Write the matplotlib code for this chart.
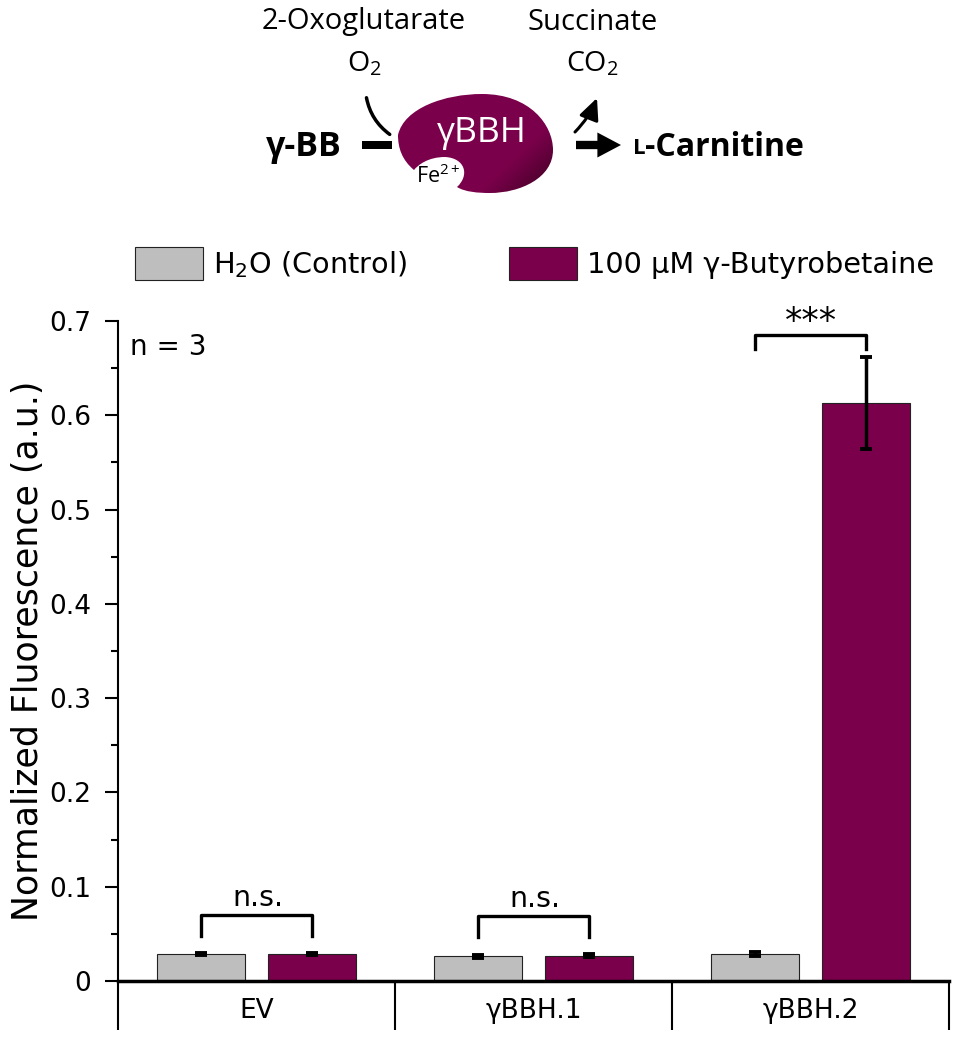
import numpy as np
import matplotlib
matplotlib.use('Agg')
import matplotlib.pyplot as plt
from matplotlib.patches import PathPatch, FancyArrowPatch, Rectangle
from matplotlib.path import Path
from matplotlib.colors import LinearSegmentedColormap

plt.rcParams['font.family'] = ['DejaVu Sans']
plt.rcParams['mathtext.default'] = 'regular'

GREY = '#BEBEBE'
PURPLE = '#7B004B'

# data
groups = ['EV', 'γBBH.1', 'γBBH.2']
control = [0.029, 0.026, 0.029]
control_err = [0.001, 0.002, 0.002]
treated = [0.029, 0.027, 0.613]
treated_err = [0.001, 0.002, 0.049]
series_labels = ['H$_2$O (Control)', '100 µM γ-Butyrobetaine']
brackets = [(0, 0.07, 0.048, 'n.s.'), (1, 0.069, 0.047, 'n.s.'), (2, 0.685, 0.67, '***')]

W, H = 956, 1037
fig = plt.figure(figsize=(W / 100, H / 100), dpi=100)
ax = fig.add_axes([118 / W, 1 - 981 / H, 831 / W, 660 / H])

x = np.arange(len(groups))
off = 0.2
bw = 0.318
ax.bar(x - off, control, bw, color=GREY, edgecolor='#222222', linewidth=0.8, label=series_labels[0])
ax.bar(x + off, treated, bw, color=PURPLE, edgecolor='#222222', linewidth=0.8, label=series_labels[1])
ax.errorbar(x - off, control, yerr=control_err, fmt='none', ecolor='black', elinewidth=2.5, capsize=4.5, capthick=2.8)
ax.errorbar(x + off, treated, yerr=treated_err, fmt='none', ecolor='black', elinewidth=2.5, capsize=4.5, capthick=2.8)

for g, top, low, label in brackets:
    ax.plot([g - off, g - off, g + off, g + off], [low, top, top, low], color='black', lw=2.4,
            solid_joinstyle='round', clip_on=False)
    if label == 'n.s.':
        ax.text(g + 0.006, top + 0.003, label, ha='center', va='bottom', fontsize=20.5, clip_on=False)
    else:
        ax.text(g, top - 0.004, label, ha='center', va='bottom', fontsize=25, clip_on=False)

ax.set_xlim(-0.5, 2.5)
ax.set_ylim(0, 0.7)
ax.set_yticks(np.arange(0, 0.71, 0.1))
ax.set_yticklabels(['0', '0.1', '0.2', '0.3', '0.4', '0.5', '0.6', '0.7'])
ax.set_yticks(np.arange(0.05, 0.7, 0.1), minor=True)
ax.tick_params(axis='y', which='major', length=9.5, width=1.5, labelsize=19, pad=10)
ax.tick_params(axis='y', which='minor', length=5, width=1.5)
ax.set_xticks([-0.5, 0.5, 1.5, 2.5])
ax.set_xticklabels([])
ax.tick_params(axis='x', which='major', length=35, width=1.5)
ax.set_xticks(x, minor=True)
ax.set_xticklabels(groups, minor=True)
ax.tick_params(axis='x', which='minor', length=0, labelsize=19, pad=12)
ax.set_ylabel('Normalized Fluorescence (a.u.)', fontsize=25, labelpad=3)
for side in ['top', 'right']:
    ax.spines[side].set_visible(False)
ax.spines['left'].set_linewidth(1.5)
ax.spines['bottom'].set_linewidth(2.5)
ax.text(130, 347, 'n = 3', fontsize=20, va='center', ha='left',
        transform=matplotlib.transforms.Affine2D().scale(1, -1).translate(0, H))

ax.legend(loc='lower left', bbox_to_anchor=(135 / W, 1 - 280 / H), bbox_transform=fig.transFigure, ncol=2,
          frameon=False, fontsize=20.7, handlelength=2.37, handleheight=1.35, handletextpad=0.35,
          columnspacing=3.55, borderaxespad=0, borderpad=0)

# schematic on top, drawn in pixel coordinates
top = fig.add_axes([0, 0, 1, 1], facecolor='none')
top.set_xlim(0, W)
top.set_ylim(H, 0)
top.axis('off')

verts = [(398, 135), (404, 108), (445, 94), (482, 94), (530, 94), (553, 125), (553, 150),
         (553, 178), (520, 193), (490, 193), (478, 193), (465, 192), (457, 187),
         (470, 175), (465, 158), (445, 157), (428, 157), (418, 165), (414, 170),
         (402, 160), (398, 148), (398, 135)]
codes = [Path.MOVETO] + [Path.CURVE4] * 21
blob = PathPatch(Path(verts, codes), facecolor='none', edgecolor='none')
top.add_patch(blob)
cmap = LinearSegmentedColormap.from_list('enzyme', [PURPLE, PURPLE, '#38001F'])
xx, yy = np.meshgrid(np.linspace(0, 1, 120), np.linspace(0, 1, 80))
im = top.imshow(np.clip(xx * 0.6 + yy * 0.4, 0, 1) ** 2, cmap=cmap, extent=(398, 553, 193, 94),
                aspect='auto', interpolation='bilinear')
im.set_clip_path(blob)
top.set_xlim(0, W)
top.set_ylim(H, 0)

SCHEME = ['Open Sans', 'DejaVu Sans']
top.text(364, 22, '2-Oxoglutarate', fontsize=21, ha='center', va='center', family=SCHEME)
top.text(593, 22, 'Succinate', fontsize=21, ha='center', va='center', family=SCHEME)
top.text(364, 64, 'O$_2$', fontsize=20.5, ha='center', va='center', family=SCHEME)
top.text(592, 64, 'CO$_2$', fontsize=20.5, ha='center', va='center', family=SCHEME)
top.text(304, 147, 'γ-BB', fontsize=24.5, fontweight='bold', ha='center', va='center', family=SCHEME)
top.text(633, 148, 'L', fontsize=16, fontweight='bold', ha='left', va='center', family=SCHEME)
top.text(645, 147, '-Carnitine', fontsize=23, fontweight='bold', ha='left', va='center', family=SCHEME)
top.text(482, 133, 'γBBH', fontsize=25.5, color='white', ha='center', va='center', family=SCHEME)
top.text(438, 176, 'Fe$^{2+}$', fontsize=15.5, ha='center', va='center', family=SCHEME)

top.add_patch(Rectangle((362, 141), 30, 8, color='black', lw=0))
top.add_patch(FancyArrowPatch((366, 95), (392, 136), connectionstyle='arc3,rad=0.22', arrowstyle='-',
                              color='black', lw=2.5))
top.add_patch(FancyArrowPatch((576, 145), (621, 145), arrowstyle='simple,head_width=18,head_length=17,tail_width=6',
                              color='black', lw=0, shrinkA=0, shrinkB=0))
top.add_patch(FancyArrowPatch((575, 132), (597, 98), connectionstyle='arc3,rad=0.1',
                              arrowstyle='-|>,head_width=6,head_length=13', color='black', lw=2.2,
                              shrinkA=0, shrinkB=0))

fig.savefig('out.png', dpi=100)
